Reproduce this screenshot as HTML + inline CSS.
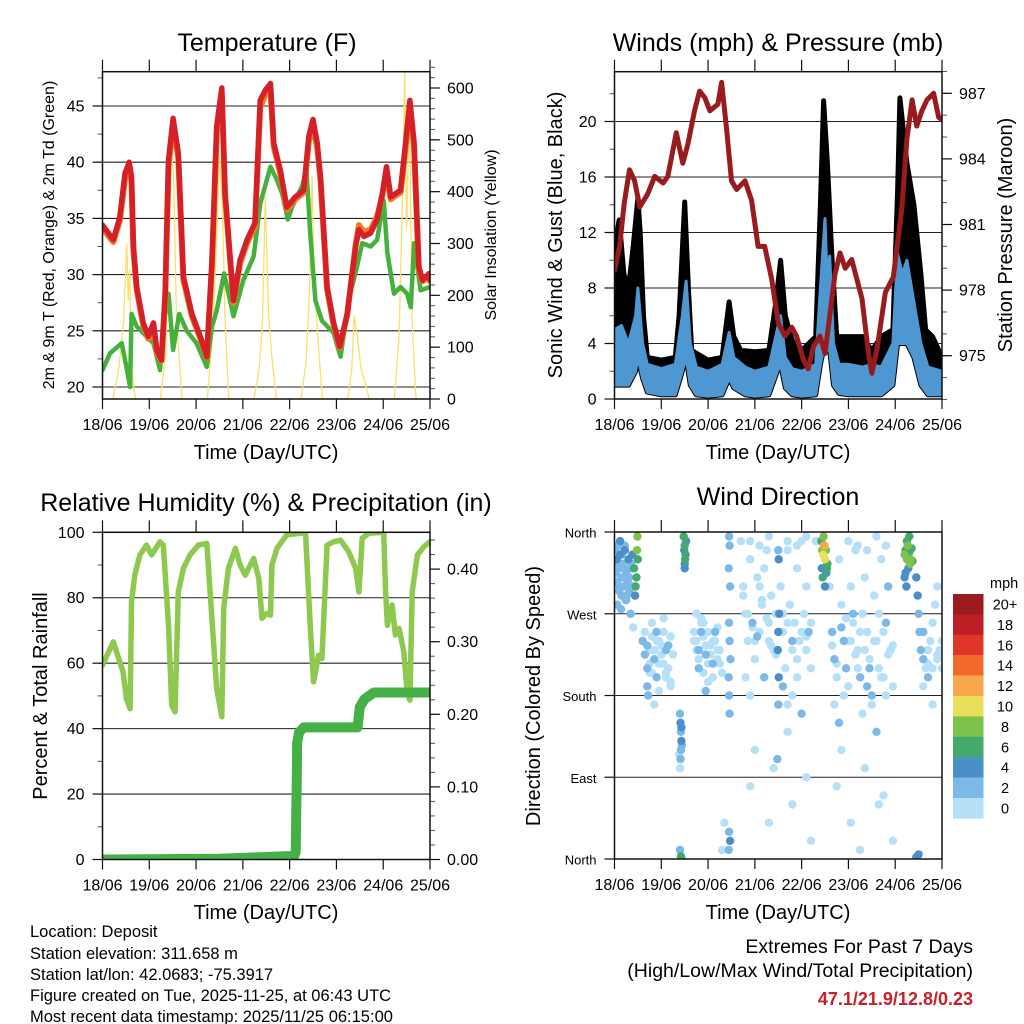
<!DOCTYPE html>
<html><head><meta charset="utf-8">
<style>
html,body{margin:0;padding:0;background:#fff;}
svg{display:block;font-family:"Liberation Sans",Arial,sans-serif;}
</style></head>
<body>
<svg id="fig" width="1024" height="1024" viewBox="0 0 1024 1024" xmlns="http://www.w3.org/2000/svg">
<defs>
<clipPath id="c1"><rect x="102.5" y="71.7" width="327.5" height="327.3"/></clipPath>
<clipPath id="c2"><rect x="614.5" y="71.7" width="327.5" height="327.3"/></clipPath>
<clipPath id="c3"><rect x="102.5" y="532" width="327.5" height="327.5"/></clipPath>
<clipPath id="c4"><rect x="614.5" y="532" width="327.5" height="327"/></clipPath>
</defs>
<rect x="0" y="0" width="1024" height="1024" fill="#fff"/>
<g id="layer"></g>
<text x="267" y="51" font-size="25" text-anchor="middle">Temperature (F)</text>
<text x="778" y="51" font-size="25" text-anchor="middle">Winds (mph) &amp; Pressure (mb)</text>
<text x="266" y="511" font-size="25" text-anchor="middle">Relative Humidity (%) &amp; Precipitation (in)</text>
<text x="778" y="505" font-size="25" text-anchor="middle">Wind Direction</text>
<text x="266" y="459" font-size="20" text-anchor="middle">Time (Day/UTC)</text>
<text x="778" y="459" font-size="20" text-anchor="middle">Time (Day/UTC)</text>
<text x="266" y="919" font-size="20" text-anchor="middle">Time (Day/UTC)</text>
<text x="778" y="919" font-size="20" text-anchor="middle">Time (Day/UTC)</text>
<text transform="translate(54,235) rotate(-90)" font-size="16" text-anchor="middle">2m &amp; 9m T (Red, Orange) &amp; 2m Td (Green)</text>
<text transform="translate(496,235) rotate(-90)" font-size="16" text-anchor="middle">Solar Insolation (Yellow)</text>
<text transform="translate(562,235) rotate(-90)" font-size="20" text-anchor="middle">Sonic Wind &amp; Gust (Blue, Black)</text>
<text transform="translate(1012,235) rotate(-90)" font-size="20" text-anchor="middle">Station Pressure (Maroon)</text>
<text transform="translate(47,696) rotate(-90)" font-size="20" text-anchor="middle">Percent &amp; Total Rainfall</text>
<text transform="translate(540,696) rotate(-90)" font-size="20" text-anchor="middle">Direction (Colored By Speed)</text>
<g font-size="16.5">
<text x="30" y="937">Location: Deposit</text>
<text x="30" y="959">Station elevation: 311.658 m</text>
<text x="30" y="980">Station lat/lon: 42.0683; -75.3917</text>
<text x="30" y="1001">Figure created on Tue, 2025-11-25, at 06:43 UTC</text>
<text x="30" y="1022">Most recent data timestamp: 2025/11/25 06:15:00</text>
</g>
<text x="973" y="953" font-size="19.5" text-anchor="end">Extremes For Past 7 Days</text>
<text x="973" y="977" font-size="19.5" text-anchor="end">(High/Low/Max Wind/Total Precipitation)</text>
<text x="973" y="1005" font-size="18" font-weight="bold" fill="#C8202A" text-anchor="end">47.1/21.9/12.8/0.23</text>
</svg>
<script>
// ---------- data ----------
const dayLabels = ["18/06","19/06","20/06","21/06","22/06","23/06","24/06","25/06"];
const tempT = [0,0.23,0.37,0.48,0.57,0.62,0.66,0.73,0.87,0.98,1.09,1.16,1.26,1.34,1.41,1.51,1.62,1.73,1.91,2.09,2.23,2.34,2.44,2.55,2.62,2.8,2.94,3.09,3.26,3.37,3.48,3.59,3.66,3.8,3.94,4.12,4.3,4.41,4.5,4.59,4.66,4.8,4.94,5.07,5.23,5.41,5.48,5.59,5.73,5.87,5.98,6.07,6.16,6.26,6.37,6.44,6.57,6.66,6.76,6.84,6.98,7.0];
const temp2m = [34.4,33.1,35.1,39.0,40.0,38.7,32.5,28.9,25.7,24.5,25.7,23.3,22.4,28.3,40.2,43.9,40.8,29.8,26.5,24.5,22.7,31.3,43.2,46.6,37.2,27.7,31.3,33.1,34.6,45.5,46.4,47.0,41.7,39.3,36.0,36.9,37.5,42.3,43.8,41.7,38.7,28.9,25.7,23.6,26.5,32.5,34.0,33.4,33.7,34.9,37.2,39.6,36.9,37.2,37.5,40.2,45.5,41.7,30.7,29.5,30.1,29.5];
const temp9m = [34.1,32.9,34.8,38.5,39.6,38.2,32.2,28.6,25.5,24.3,25.4,23.1,22.3,27.9,39.6,43.3,40.4,29.5,26.3,24.3,22.6,30.9,42.6,46.0,37.0,27.5,31.0,32.8,34.3,44.9,46.0,46.5,41.4,39.0,35.8,36.7,37.3,41.8,43.3,41.3,38.4,28.7,25.5,23.5,26.4,32.6,34.4,33.8,34.0,35.2,37.0,39.2,36.7,37.0,37.3,39.8,45.0,41.3,30.5,29.4,29.9,29.4];
const dewT = [0,0.16,0.41,0.51,0.59,0.62,0.73,0.94,1.09,1.23,1.3,1.41,1.51,1.64,1.8,2.01,2.23,2.34,2.44,2.6,2.8,3.01,3.23,3.37,3.59,3.73,3.84,3.96,4.05,4.26,4.36,4.44,4.55,4.69,4.94,5.09,5.26,5.44,5.55,5.73,5.87,6.01,6.09,6.23,6.37,6.51,6.59,6.66,6.8,7.0];
const dewPt = [21.5,23.0,23.9,21.8,20.0,26.5,25.4,24.5,23.9,21.5,25.4,28.3,23.3,26.5,25.0,23.9,21.8,25.4,26.8,30.1,26.3,29.5,31.6,36.3,39.6,38.4,37.2,34.9,36.0,37.8,39.3,33.7,27.7,25.9,24.8,22.7,27.7,30.7,32.8,32.5,33.1,36.6,31.9,28.3,28.9,28.3,27.1,32.8,28.6,28.9];
const solarT = [0.22,0.35,0.45,0.52,0.55,0.58,0.62,0.7, 1.24,1.35,1.42,1.47,1.52,1.58,1.7, 2.24,2.35,2.45,2.5,2.56,2.62,2.7, 3.24,3.35,3.42,3.48,3.55,3.62,3.72, 4.24,4.35,4.42,4.48,4.52,4.6,4.7, 5.24,5.33,5.38,5.45,5.52,5.62,5.7, 6.24,6.34,6.42,6.46,6.5,6.56,6.62,6.7];
const solarW = [0,60,150,300,190,250,60,0, 0,90,300,480,430,160,0, 0,120,330,470,380,150,0, 0,60,150,390,160,80,0, 0,70,200,430,250,120,0, 0,60,160,120,60,30,0, 0,120,420,630,330,560,150,0];
const presT = [0,0.11,0.21,0.32,0.43,0.54,0.71,0.86,1.04,1.14,1.32,1.46,1.57,1.71,1.82,1.93,2.04,2.21,2.29,2.39,2.5,2.61,2.79,2.93,3.07,3.21,3.36,3.5,3.64,3.79,3.89,4.04,4.14,4.25,4.39,4.5,4.71,4.82,4.93,5.07,5.29,5.43,5.5,5.61,5.79,5.96,6.14,6.25,6.36,6.46,6.57,6.68,6.82,6.93,7.0];
const presMb = [978.9,980.0,982.0,983.5,983.0,981.8,982.4,983.2,982.9,983.2,985.2,983.8,984.7,986.2,987.1,986.8,986.2,986.5,987.5,985.5,983.0,982.6,983.0,982.1,980.0,980.0,978.5,976.5,975.9,976.3,975.9,974.8,974.4,975.4,975.9,975.1,978.7,979.7,979.0,979.4,977.6,975.1,974.2,975.3,977.9,978.6,981.7,984.9,986.7,985.5,986.2,986.7,987.0,985.9,985.8];
const windT = [0,0.15,0.3,0.45,0.5,0.6,0.7,1.0,1.3,1.45,1.53,1.62,1.75,2.0,2.3,2.45,2.55,2.8,3.0,3.3,3.48,3.55,3.65,3.8,4.0,4.3,4.4,4.5,4.55,4.6,4.68,4.8,5.0,5.3,5.5,5.7,5.95,6.05,6.15,6.25,6.4,6.55,6.7,7.0];
const windHi = [5,5.3,4,6,8,4,2.5,2.2,2.5,6,8.5,4,2.3,2,2.5,4.8,3,2.3,2,2.3,5,6,3,2.2,2,2.5,8,13,8,10.3,4,2.5,2.5,2.3,2.5,2.3,4,10.5,9,10,7,4,2.3,2];
const windLo = [1,1,1,2,3,1.5,0.5,0.3,0.3,2,3,1,0.3,0.2,0.3,1.5,0.8,0.3,0.2,0.3,2,2.5,0.8,0.3,0.2,0.3,2.5,4,3.5,3.5,1,0.4,0.3,0.3,0.3,0.3,1,4,4,4,3,1,0.3,0.3];
const gustT = [0,0.1,0.2,0.3,0.4,0.5,0.55,0.62,0.7,1.0,1.3,1.38,1.5,1.58,1.65,2.0,2.3,2.45,2.55,2.7,3.0,3.3,3.45,3.55,3.65,3.8,4.0,4.3,4.4,4.47,4.55,4.65,4.75,5.0,5.3,5.5,5.7,5.95,6.05,6.1,6.25,6.4,6.55,6.65,6.8,7.0];
const gustHi = [11,12.9,9,8,11,14.5,12,6,3,2.8,3,6,14.2,8,3.5,2.8,3,7,4.5,3.5,3.4,3.5,7,10,6,4.2,3.5,4.5,14,21.5,17,10,4.5,4.5,4.5,3.5,4.5,5,15,21.7,17,14,9,5,4.5,3];
const rhT = [0,0.23,0.44,0.51,0.59,0.62,0.69,0.8,0.94,1.05,1.23,1.3,1.41,1.48,1.55,1.62,1.73,1.87,2.05,2.23,2.44,2.55,2.59,2.69,2.84,2.94,3.05,3.23,3.34,3.41,3.51,3.59,3.62,3.73,3.94,4.23,4.34,4.44,4.51,4.62,4.69,4.8,4.94,5.09,5.26,5.41,5.48,5.55,5.69,6.01,6.05,6.09,6.19,6.26,6.34,6.44,6.51,6.57,6.62,6.73,6.87,7.0];
const rhPct = [59.4,66.5,57.3,49.2,46.1,78.8,86.9,93.1,96.1,93.1,97.1,96.1,71.6,47.1,45.1,81.8,89.0,93.1,96.1,96.6,52.2,43.6,76.7,89.0,95.1,90.0,86.9,92.0,85.9,73.7,75.2,74.7,90.0,95.1,99.2,99.7,100,71.6,54.3,62.4,61.4,96.1,97.1,97.6,94.1,89.0,81.8,98.2,99.7,100,81.8,71.6,77.8,68.6,70.6,63.5,51.2,48.7,81.8,93.1,95.6,97.1];
const precipT = [0,2.5,4.1,4.13,4.135,4.14,4.145,4.15,4.155,4.16,4.2,4.3,5.45,5.5,5.6,5.8,7.0];
const precipIn = [0,0.001,0.005,0.01,0.04,0.06,0.08,0.1,0.13,0.16,0.175,0.182,0.182,0.21,0.221,0.23,0.23];
const dirT = [0.02,0.05,0.08,0.1,0.12,0.15,0.18,0.2,0.22,0.25,0.28,0.3,0.32,0.35,0.05,0.1,0.15,0.2,0.25,0.3,0.12,0.22,0.38,0.42,0.45,0.48,0.5,0.47,0.44,0.49,
0.35,0.4,0.6,0.65,0.7,0.75,0.8,0.85,0.9,0.95,1.0,1.05,1.1,1.15,1.2,0.7,0.75,0.8,0.9,1.0,1.1,1.2,0.72,0.85,0.95,1.05,
1.48,1.5,1.52,1.5,1.49,1.51,1.53,1.5, 1.4,1.41,1.42,1.43,1.42,1.41,1.4,1.43,1.44,1.38,1.4,1.42,1.43,
1.7,1.75,1.8,1.85,1.9,1.95,2.0,2.05,2.1,2.15,2.2,2.25,1.8,1.9,2.0,2.1,2.2,1.75,1.85,1.95,
2.45,2.46,2.44,2.47,2.45,2.46,2.48,2.44,2.45,2.46,2.45,2.47,2.44,2.3,2.35,
2.7,2.75,2.8,2.85,2.9,2.95,3.0,3.05,3.1,3.15,3.2,3.25,3.3,3.35,3.4,3.45,3.55,3.6,3.65,3.7,3.75,3.8,3.85,3.9,3.95,4.0,4.05,4.1,4.15,4.2,2.8,2.9,3.0,3.1,3.2,3.3,3.6,3.7,3.8,3.9,4.0,4.1,3.0,3.4,3.8,4.2,2.9,3.3,3.7,4.1,
3.5,3.51,3.52,3.5,3.49,3.51,3.5,3.48,
4.6,4.65,4.7,4.75,4.8,4.85,4.9,4.95,5.0,5.05,5.1,5.15,5.2,5.25,5.3,5.35,5.4,5.45,5.5,5.55,5.6,5.65,5.7,5.75,5.8,5.85,5.9,5.95,4.7,4.8,4.9,5.0,5.1,5.2,5.3,5.4,5.5,5.6,5.7,5.8,4.75,5.05,5.35,5.65,5.95,4.85,5.25,5.75,
4.42,4.44,4.46,4.48,4.5,4.52,4.54,4.45,4.5,4.55,4.47,4.53,4.43,4.49,
6.45,6.48,6.5,6.52,6.55,6.6,6.65,6.7,6.75,6.8,6.85,6.9,6.95,7.0,6.6,6.7,6.8,6.9,6.5,6.45,
6.2,6.22,6.25,6.27,6.3,6.32,6.35,6.25,6.3,6.28,6.22,6.33,6.37,6.2,6.24,
0.6,0.65,0.7,0.75,0.8,0.85,0.9,0.95,1.0,1.05,1.1,1.15,1.2,1.25,1.7,1.75,1.8,1.85,1.9,1.95,2.0,2.05,2.1,2.15,2.2,2.25,2.3,2.75,2.85,2.95,3.05,3.15,3.25,3.35,3.45,3.6,3.7,3.8,3.9,4.0,4.1,4.2,4.65,4.75,4.85,4.95,5.05,5.15,5.25,5.35,5.45,5.55,5.65,5.75,5.85,5.95,6.6,6.7,6.8,6.9,7.0,2.9,3.1,3.3,3.5,3.7,3.9,4.1,4.3,5.0,5.2,5.4,5.6,5.8,
0.03,0.07,0.11,0.16,0.21,0.26,0.31,0.36,0.41,0.06,0.14,0.24,0.34];
const dirDeg = [340,330,345,320,335,310,325,300,340,315,305,330,295,320,305,295,290,310,285,300,350,345,335,320,300,340,330,310,290,355,
270,255,240,225,210,230,245,220,200,215,235,250,230,210,195,190,205,260,240,225,205,190,180,170,185,265,
355,345,335,325,340,330,350,320, 160,150,140,130,120,110,100,145,125,115,10,3,1,
250,240,230,260,245,225,250,235,215,240,255,230,210,205,195,200,220,270,265,185,
355,345,320,300,260,240,220,200,180,160,30,20,10,10,40,
350,300,270,240,330,260,220,310,250,280,200,340,240,290,230,270,300,250,210,340,280,230,260,320,240,350,270,300,250,210,200,180,240,300,320,260,190,170,180,200,160,230,120,100,60,20,80,40,140,90,
340,330,270,250,230,200,170,110,
300,250,220,200,330,280,240,210,190,300,260,340,230,200,270,310,250,220,180,290,240,210,330,200,260,300,230,190,170,150,180,240,270,210,160,190,170,140,200,180,80,40,100,60,20,120,10,70,
350,340,335,345,330,340,320,310,300,325,355,315,320,345,
310,290,270,250,230,220,210,215,240,260,280,300,230,210,190,200,170,220,5,2,
335,340,330,345,338,325,342,350,355,320,315,330,328,310,300,
240,250,235,215,205,230,250,240,225,215,200,235,245,225,240,230,220,250,260,235,215,225,240,250,230,215,205,290,270,255,245,285,265,235,225,270,260,240,220,250,245,260,235,215,255,265,240,225,250,230,210,240,270,250,225,235,250,230,210,225,240,350,345,355,340,350,345,355,350,350,345,340,355,345,
315,325,300,335,320,290,310,325,300,280,275,285,270];
const dirSpd = [3,4,3,2,4,3,2,3,4,2,3,4,2,3,3,2,2,3,2,3,4,3,5,6,7,8,6,7,5,8,
1,1,2,2,2,1,1,2,2,1,1,1,2,1,0,2,1,0,0,1,1,0,2,1,1,0,
6,7,6,5,4,6,4,5, 3,4,3,4,3,3,1,4,3,1,3,7,6,
1,0,2,1,1,2,0,1,2,1,0,1,2,1,0,1,1,0,1,2,
3,2,3,2,2,3,2,2,3,2,3,4,3,1,0,
0,1,1,0,1,2,1,0,1,1,2,1,0,1,1,0,1,0,1,1,0,1,0,1,0,1,1,0,2,1,1,1,0,0,0,1,2,1,1,0,2,1,0,1,0,1,0,0,1,0,
3,4,4,4,5,4,3,3,
1,3,2,1,1,0,3,2,1,0,1,1,0,3,1,0,1,1,2,0,1,1,0,1,2,3,1,1,1,2,0,1,3,0,1,2,1,3,0,1,0,1,0,0,1,0,0,1,
6,8,10,12,11,8,6,7,5,7,8,4,4,10,
4,4,3,2,2,2,1,1,0,1,1,0,0,1,1,2,0,1,4,4,
8,7,9,8,7,8,7,6,6,5,4,9,6,4,4,
1,0,2,1,0,1,2,0,1,0,1,2,0,1,0,1,0,2,1,0,1,0,1,2,0,1,0,0,1,0,2,1,0,1,0,1,0,2,1,0,1,0,0,1,2,0,1,0,1,0,2,1,0,1,0,1,2,0,1,0,1,0,1,0,1,0,0,1,0,1,0,1,0,0,
2,3,2,3,2,3,2,3,3,2,2,2,3];
const cbLabels = ["20+","18","16","14","12","10","8","6","4","2","0"];
const cbColors = ["#9B1B1E","#BD1F27","#E0362A","#F26A2B","#F8A84A","#E8E05A","#7DC24B","#45A86C","#4A8FC8","#7CB9E6","#B5E0F7"];
const tempTicks = [20,25,30,35,40,45];
const solarTicks = [0,100,200,300,400,500,600];
const windTicks = [0,4,8,12,16,20];
const presTicks = [975,978,981,984,987];
const rhTicks = [0,20,40,60,80,100];
const precipTicks = [0,0.1,0.2,0.3,0.4];
const dirTicks = [0,90,180,270,360];
const dirNames = ["North","East","South","West","North"];

// ---------- scales ----------
const NS = "http://www.w3.org/2000/svg";
const layer = document.getElementById("layer");
function mk(tag, parent) { const e = document.createElementNS(NS, tag); (parent || layer).appendChild(e); return e; }
function lin(d0, d1, r0, r1) { return v => r0 + (v - d0) * (r1 - r0) / (d1 - d0); }
const xL = lin(0, 7, 102.5, 430);
const xR = lin(0, 7, 614.5, 942);
const yTemp = lin(20, 45, 387, 106);
const ySol = lin(0, 600, 399, 88);
const yWind = lin(0, 20, 399, 121.5);
const yPres = lin(975, 987, 355.7, 93.3);
const yRH = lin(0, 100, 859.5, 532.3);
const yPr = lin(0, 0.4, 859.5, 569.1);
const yDir = lin(0, 360, 859, 532);
function pathD(xs, ys, fx, fy) { return xs.map((t, i) => (i ? "L" : "M") + fx(t).toFixed(1) + "," + fy(ys[i]).toFixed(1)).join(""); }
function spdColor(s) { let idx = Math.min(10, Math.floor(s / 2)); return cbColors[10 - idx]; }

// ---------- axes ----------
function axes(name, x0, x1, y0, y1, grid, gridF, leftTicks, leftF, leftLbl, leftMinor, rightTicks, rightF, rightMinor, xs) {
  const g = mk("g");
  
  
  grid.forEach(v => {
    const l = mk("line", g);
    
    
    const y = gridF(v);
    l.setAttribute("x1", x0); l.setAttribute("x2", x1); l.setAttribute("y1", y); l.setAttribute("y2", y);
    l.setAttribute("stroke", "#222"); l.setAttribute("stroke-width", "1.1");
  });
  for (let d = 0; d <= 7; d++) {
    const x = xs(d);
    [[y0, y0 - 12], [y1, y1 + 10]].forEach(p => {
      const t = mk("line", g);
      
      
      t.setAttribute("x1", x); t.setAttribute("x2", x); t.setAttribute("y1", p[0]); t.setAttribute("y2", p[1]);
      t.setAttribute("stroke", "#111"); t.setAttribute("stroke-width", "1.2");
    });
    const tx = mk("text", g);
    
    
    tx.setAttribute("x", x); tx.setAttribute("y", y1 + 31); tx.setAttribute("font-size", "16"); tx.setAttribute("text-anchor", "middle");
    tx.textContent = dayLabels[d];
  }
  leftMinor.forEach(v => {
    const t = mk("line", g);
    
    
    const y = leftF(v);
    t.setAttribute("x1", x0 - 5); t.setAttribute("x2", x0); t.setAttribute("y1", y); t.setAttribute("y2", y);
    t.setAttribute("stroke", "#555"); t.setAttribute("stroke-width", "1");
  });
  leftTicks.forEach((v, i) => {
    const y = leftF(v);
    const t = mk("line", g);
    
    
    t.setAttribute("x1", x0 - 10); t.setAttribute("x2", x0); t.setAttribute("y1", y); t.setAttribute("y2", y);
    t.setAttribute("stroke", "#111"); t.setAttribute("stroke-width", "1.2");
    const tx = mk("text", g);
    
    
    tx.setAttribute("x", x0 - 18); tx.setAttribute("y", y + 5.5); tx.setAttribute("font-size", leftLbl ? "13" : "16"); tx.setAttribute("text-anchor", "end");
    tx.textContent = leftLbl ? leftLbl[i] : String(v);
  });
  if (rightTicks) {
    rightMinor.forEach(v => {
      const t = mk("line", g);
      
      
      const y = rightF(v);
      t.setAttribute("x1", x1); t.setAttribute("x2", x1 + 5); t.setAttribute("y1", y); t.setAttribute("y2", y);
      t.setAttribute("stroke", "#555"); t.setAttribute("stroke-width", "1");
    });
    rightTicks.forEach(v => {
      const y = rightF(v);
      const t = mk("line", g);
      
      
      t.setAttribute("x1", x1); t.setAttribute("x2", x1 + 10); t.setAttribute("y1", y); t.setAttribute("y2", y);
      t.setAttribute("stroke", "#111"); t.setAttribute("stroke-width", "1.2");
      const tx = mk("text", g);
      
      
      tx.setAttribute("x", x1 + 17); tx.setAttribute("y", y + 5.5); tx.setAttribute("font-size", "16");
      tx.textContent = (name === "rh") ? v.toFixed(2) : String(v);
    });
  }
  return g;
}
function frame(name, x0, x1, y0, y1) {
  const r = mk("rect");
  
  
  r.setAttribute("x", x0); r.setAttribute("y", y0); r.setAttribute("width", x1 - x0); r.setAttribute("height", y1 - y0);
  r.setAttribute("fill", "none"); r.setAttribute("stroke", "#111"); r.setAttribute("stroke-width", "1.5");
}
function range(a, b, s) { const o = []; for (let v = a; v <= b + 1e-9; v += s) o.push(+v.toFixed(4)); return o; }
function seriesPath(name, xs, ys, fx, fy, color, w, clip) {
  const p = mk("path");
  
  
  p.setAttribute("d", pathD(xs, ys, fx, fy));
  p.setAttribute("fill", "none"); p.setAttribute("stroke", color); p.setAttribute("stroke-width", w);
  p.setAttribute("stroke-linejoin", "round"); p.setAttribute("stroke-linecap", "round");
  p.setAttribute("clip-path", "url(#" + clip + ")");
  return p;
}

// Panel 1: temperature
axes("temp", 102.5, 430, 71.7, 399, tempTicks, yTemp, tempTicks, yTemp, null, range(20, 47.5, 2.5), solarTicks, ySol, range(0, 640, 20), xL);
seriesPath("solar-insolation-line", solarT, solarW, xL, ySol, "#F8E06A", 1.3, "c1");
seriesPath("dewpoint-2m-line", dewT, dewPt, xL, yTemp, "#45B03C", 4.5, "c1");
seriesPath("temp-9m-line", tempT, temp9m, xL, yTemp, "#F47A2A", 6, "c1");
seriesPath("temp-2m-line", tempT, temp2m, xL, yTemp, "#D42027", 5.5, "c1");
frame("temp", 102.5, 430, 71.7, 399);

// Panel 2: winds & pressure
axes("wind", 614.5, 942, 71.7, 399, windTicks, yWind, windTicks, yWind, null, range(0, 22, 2), presTicks, yPres, range(973, 988, 1), xR);
(function () {
  const g = mk("path");
  
  
  const top = gustT.map((t, i) => (i ? "L" : "M") + xR(t).toFixed(1) + "," + yWind(gustHi[i]).toFixed(1)).join("");
  const bot = windT.map((t, i) => "L" + xR(t).toFixed(1) + "," + yWind(windLo[i]).toFixed(1)).reverse().join("");
  g.setAttribute("d", top + bot + "Z");
  g.setAttribute("fill", "#000"); g.setAttribute("stroke", "#000"); g.setAttribute("stroke-width", "5"); g.setAttribute("stroke-linejoin", "round");
  g.setAttribute("clip-path", "url(#c2)");
  const b = mk("path");
  
  
  const top2 = windT.map((t, i) => (i ? "L" : "M") + xR(t).toFixed(1) + "," + yWind(windHi[i]).toFixed(1)).join("");
  const bot2 = windT.map((t, i) => "L" + xR(t).toFixed(1) + "," + yWind(windLo[i]).toFixed(1)).reverse().join("");
  b.setAttribute("d", top2 + bot2 + "Z");
  b.setAttribute("fill", "#4F97D0"); b.setAttribute("stroke", "#4F97D0"); b.setAttribute("stroke-width", "3"); b.setAttribute("stroke-linejoin", "round");
  b.setAttribute("clip-path", "url(#c2)");
})();
seriesPath("station-pressure-line", presT, presMb, xR, yPres, "#981B1E", 5, "c2");
frame("wind", 614.5, 942, 71.7, 399);

// Panel 3: RH & precipitation
axes("rh", 102.5, 430, 532.3, 859.5, rhTicks, yRH, rhTicks, yRH, null, range(0, 100, 10), precipTicks, yPr, range(0, 0.44, 0.02), xL);
seriesPath("relative-humidity-line", rhT, rhPct, xL, yRH, "#8DC94E", 5.5, "c3");
seriesPath("precipitation-line", precipT, precipIn, xL, yPr, "#45B046", 10, "c3");
frame("rh", 102.5, 430, 532.3, 859.5);

// Panel 4: wind direction
axes("dir", 614.5, 942, 532, 859, dirTicks, yDir, dirTicks, yDir, dirNames, [], null, null, null, xR);
(function () {
  const g = mk("g");
  
  
  g.setAttribute("clip-path", "url(#c4)");
  const order = dirSpd.map((s, i) => i).sort((a, b) => dirSpd[a] - dirSpd[b]);
  order.forEach(i => {
    const c = mk("circle", g);
    
    
    c.setAttribute("cx", xR(dirT[i]).toFixed(1)); c.setAttribute("cy", yDir(dirDeg[i]).toFixed(1));
    c.setAttribute("r", "4.2"); c.setAttribute("fill", spdColor(dirSpd[i]));
  });
})();
frame("dir", 614.5, 942, 532, 859);
(function () {
  const g = mk("g");
  
  
  const u = mk("text", g);
  
  
  u.setAttribute("x", 990); u.setAttribute("y", 588); u.setAttribute("font-size", "14.5");
  u.textContent = "mph";
  cbLabels.forEach((lab, i) => {
    const r = mk("rect", g);
    
    
    r.setAttribute("x", 953); r.setAttribute("y", 594 + i * 20.4); r.setAttribute("width", 30.5); r.setAttribute("height", 20.6);
    r.setAttribute("fill", cbColors[i]);
    const t = mk("text", g);
    
    
    t.setAttribute("x", 1005); t.setAttribute("y", 594 + i * 20.4 + 15.5); t.setAttribute("font-size", "14.5"); t.setAttribute("text-anchor", "middle");
    t.textContent = lab;
  });
})();
</script>
</body></html>
